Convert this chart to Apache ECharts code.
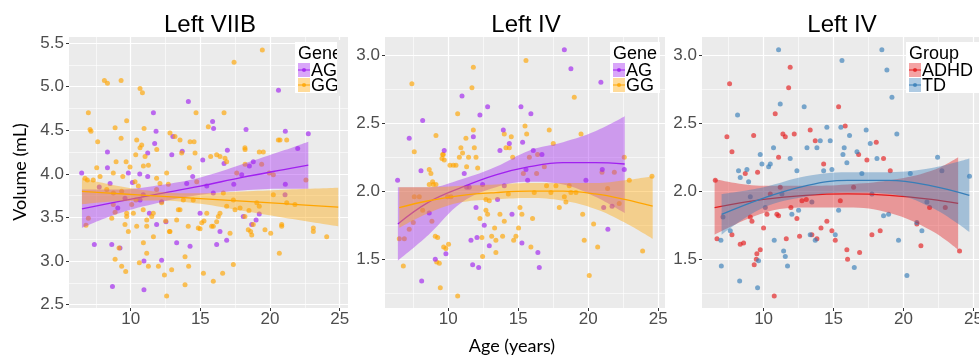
<!DOCTYPE html>
<html>
<head>
<meta charset="utf-8">
<script src="https://cdn.jsdelivr.net/npm/echarts@6/dist/echarts.min.js"></script>
<style>
  html, body { margin: 0; padding: 0; background: #fff; }
  #chart { width: 979px; height: 357px; }
</style>
</head>
<body>
<div id="chart"></div>
<script>
// ---- panel 1: Left VIIB (gene) ----
const viibAG = [[6.48,4.01],[7.39,3.19],[7.74,3.85],[8.33,4.25],[8.33,4.07],[8.52,3.89],[8.64,3.19],[8.69,2.71],[9.07,3.61],[9.23,3.15],[9.59,3.72],[9.83,4.01],[10.12,3.90],[10.65,4.0],[10.67,3.70],[10.9,3.76],[10.95,3.0],[10.95,2.67],[11.22,4.24],[11.22,3.97],[11.34,3.55],[11.63,4.70],[11.72,4.35],[11.82,4.49],[11.86,3.42],[12.22,3.68],[12.22,3.01],[12.53,3.45],[12.95,4.22],[13.03,4.43],[13.3,3.21],[13.7,4.26],[14.14,4.83],[14.02,3.89],[14.26,3.17],[14.45,3.97],[14.98,3.55],[15.17,4.16],[15.46,3.86],[15.88,4.60],[15.95,4.52],[15.93,3.78],[16.17,3.19],[16.41,3.34],[16.7,4.12],[16.89,3.24],[16.94,4.27],[17.4,3.88],[17.97,3.99],[18.08,3.51],[18.28,4.51],[18.52,4.09],[18.69,3.42],[18.8,4.14],[19.0,3.47],[19.23,3.54],[20.61,4.96],[21.08,3.76],[21.1,3.88],[21.1,4.49],[21.99,4.29],[22.75,4.46]];
const viibGG = [[6.79,3.41],[6.96,4.70],[7.08,4.51],[7.15,4.49],[7.63,4.37],[7.56,4.07],[6.96,3.49],[6.89,3.93],[8.11,5.07],[8.33,5.04],[9.31,5.07],[8.88,4.53],[8.95,4.14],[9.31,4.41],[9.67,4.14],[9.71,4.61],[8.76,3.78],[8.64,3.49],[8.88,3.56],[8.88,3.02],[9.16,3.15],[9.35,2.94],[9.64,2.88],[9.71,3.55],[10.36,4.22],[10.67,4.98],[10.84,4.93],[10.96,4.52],[10.67,4.30],[10.91,4.09],[10.31,3.91],[10.55,3.86],[10.38,3.70],[10.19,3.55],[10.62,2.98],[10.91,3.21],[11.15,3.09],[11.27,2.94],[11.15,3.40],[11.51,3.51],[11.63,3.28],[11.99,2.94],[11.87,4.28],[12.58,4.01],[12.7,3.88],[12.51,3.46],[12.78,3.34],[12.42,2.84],[12.58,2.60],[12.94,2.90],[12.82,4.47],[13.18,4.43],[13.66,4.24],[13.54,3.59],[13.9,3.05],[13.9,2.73],[14.16,2.94],[14.21,4.07],[14.55,4.37],[14.74,3.91],[14.69,4.70],[14.98,3.37],[15.22,2.86],[15.26,3.46],[15.57,4.54],[15.74,4.20],[15.93,3.40],[15.93,2.77],[16.29,3.51],[16.41,4.20],[16.6,2.86],[16.7,4.70],[16.89,4.14],[17.42,5.28],[19.45,5.42],[17.37,2.96],[17.49,3.59],[17.61,4.01],[18.21,4.11],[18.21,4.28],[18.49,3.58],[18.61,3.34],[18.8,3.42],[19.23,3.63],[19.4,4.11],[19.52,4.25],[19.95,4.01],[20.05,3.32],[20.24,3.76],[20.72,4.39],[20.67,3.09],[20.84,3.40],[21.2,3.67],[21.79,3.65],[22.58,3.93],[23.11,3.38],[24.07,3.28],[6.72,3.95],[7.31,3.93],[7.8,3.97],[8.28,3.82],[8.75,3.65],[9.35,3.80],[9.71,3.51],[9.59,3.42],[9.83,3.34],[10.07,3.65],[10.43,3.40],[10.9,3.59],[11.15,3.47],[11.62,3.55],[11.86,3.82],[12.1,3.89],[12.22,3.67],[12.82,3.34],[13.3,3.47],[13.42,3.59],[13.78,3.70],[14.13,3.40],[14.49,3.70],[14.85,3.38],[15.1,3.44],[15.46,3.55],[15.81,3.40],[16.17,3.45],[16.41,3.55],[16.65,3.78],[16.89,3.63],[17.13,3.32],[17.37,3.70],[17.85,3.61],[18.2,3.51],[18.44,3.36],[18.69,3.30],[19.05,3.67],[19.64,3.36],[20.84,3.42],[23.11,3.34],[13.54,4.39],[14.26,4.37],[14.62,4.24],[16.17,4.22],[16.77,4.18],[18.2,4.30],[19.23,4.25],[20.24,3.99],[20.6,4.39],[21.2,4.39],[10.43,4.39],[10.79,4.33],[9.95,4.08],[11.03,4.20],[11.27,4.10],[11.86,3.95],[8.75,4.01],[9.43,3.97]];
const viibFitAgeAG = [6.5, 9, 12, 15, 18, 21, 22.75];
const viibFitAG    = [3.60, 3.68, 3.77, 3.86, 3.96, 4.05, 4.10];
const viibLoAG     = [3.38, 3.54, 3.67, 3.76, 3.81, 3.83, 3.83];
const viibHiAG     = [3.82, 3.82, 3.87, 3.96, 4.11, 4.27, 4.37];
const viibFitAgeGG = [6.5, 9, 12, 15, 18, 21, 24.9];
const viibFitGG    = [3.80, 3.775, 3.746, 3.717, 3.687, 3.658, 3.62];
const viibLoGG     = [3.65, 3.685, 3.696, 3.657, 3.577, 3.498, 3.40];
const viibHiGG     = [3.95, 3.865, 3.796, 3.777, 3.797, 3.818, 3.84];

// ---- panel 2: Left IV (gene) ----
const ivAG = [[6.38,2.08],[7.21,2.39],[8.17,2.52],[8.05,2.15],[8.1,1.34],[8.64,1.84],[9.07,1.50],[9.71,2.30],[9.83,1.54],[10.98,2.70],[11.14,2.13],[11.31,2.03],[11.5,2.03],[11.62,1.64],[11.74,1.46],[11.79,2.40],[11.98,1.88],[12.05,1.66],[12.17,1.44],[12.26,2.56],[12.45,2.05],[12.81,2.62],[12.57,1.75],[12.93,1.60],[13.52,1.94],[13.69,2.30],[13.93,2.45],[14.0,2.04],[14.36,2.35],[14.55,1.83],[15.19,2.62],[15.26,1.62],[15.31,2.36],[15.55,2.16],[15.67,2.08],[15.9,2.57],[16.07,2.30],[16.4,1.55],[16.5,1.44],[16.69,2.27],[18.29,3.04],[18.76,2.90],[19.83,2.08],[20.9,2.80],[21.0,2.16],[21.1,1.88],[21.4,1.72],[21.7,1.89],[22.57,2.16]];
const ivGG = [[7.4,2.79],[7.57,2.29],[6.5,1.65],[6.86,1.65],[6.79,1.45],[7.21,1.72],[7.5,1.77],[7.57,1.96],[7.93,1.96],[8.17,1.86],[8.64,2.16],[8.76,2.13],[8.64,2.05],[8.88,2.07],[8.93,2.05],[9.12,2.05],[8.83,1.78],[9.07,1.67],[9.24,1.66],[9.17,1.48],[9.36,1.47],[9.43,1.29],[9.12,2.41],[9.6,2.27],[9.64,2.27],[9.55,2.24],[9.71,2.23],[9.67,1.59],[9.83,1.58],[10.02,1.61],[9.95,1.96],[10.19,1.96],[10.12,2.19],[10.36,2.19],[10.55,2.19],[10.67,1.23],[10.67,2.57],[10.79,2.25],[10.9,2.32],[11.02,2.28],[11.26,2.39],[11.31,2.18],[11.45,2.25],[11.69,2.76],[11.79,2.91],[11.79,2.45],[11.86,2.32],[11.98,2.25],[12.1,2.17],[12.26,1.80],[12.4,1.66],[12.45,1.52],[12.69,1.94],[12.69,1.86],[12.81,1.83],[12.93,1.93],[13.1,1.67],[13.31,1.73],[13.4,1.64],[13.4,1.55],[13.69,1.83],[13.88,1.67],[14.0,1.78],[14.0,2.42],[14.12,2.32],[14.29,1.98],[14.36,2.32],[14.5,2.40],[14.6,2.25],[14.67,1.64],[14.83,1.67],[15.02,1.73],[15.12,1.88],[15.26,1.83],[15.36,2.13],[15.48,2.48],[15.55,2.96],[15.6,2.42],[15.79,2.25],[15.9,1.59],[16.02,1.80],[16.14,1.99],[16.31,2.13],[16.38,2.27],[16.86,2.18],[17.02,2.04],[17.21,2.45],[17.33,1.99],[17.5,2.35],[17.69,2.04],[17.93,1.88],[18.29,1.96],[18.4,1.92],[18.64,2.04],[18.76,1.99],[19.0,2.69],[19.12,1.99],[19.48,2.42],[19.6,1.83],[19.71,1.64],[20.07,1.38],[20.38,1.76],[20.67,1.59],[20.98,2.14],[21.38,2.02],[21.86,2.14],[22.21,1.91],[22.57,2.25],[22.93,2.08],[23.88,1.56],[24.55,2.11]];
const ivFitAgeAG = [6.4, 8.6, 11, 13.4, 15.8, 18.2, 20.5, 22.6];
const ivFitAG    = [1.76, 1.92, 2.03, 2.12, 2.18, 2.21, 2.21, 2.20];
const ivLoAG     = [1.49, 1.68, 1.92, 2.03, 2.07, 2.05, 1.96, 1.84];
const ivHiAG     = [2.03, 2.03, 2.09, 2.18, 2.30, 2.36, 2.44, 2.55];
const ivFitAgeGG = [6.5, 8.6, 11, 13.4, 15.8, 18.2, 20.5, 22.6, 24.6];
const ivFitGG    = [1.88, 1.93, 1.97, 1.99, 2.00, 2.00, 1.98, 1.94, 1.89];
const ivLoGG     = [1.73, 1.84, 1.92, 1.94, 1.95, 1.93, 1.87, 1.77, 1.65];
const ivHiGG     = [2.03, 2.03, 2.04, 2.05, 2.06, 2.06, 2.06, 2.08, 2.11];

// ---- panel 3: Left IV (group) ----
const ivADHD = [[6.55,2.08],[6.67,1.65],[7.38,2.40],[7.57,2.79],[7.74,2.29],[7.74,1.68],[8.33,1.61],[8.57,1.62],[8.69,2.13],[9.05,1.81],[9.17,1.78],[9.29,2.41],[9.33,1.46],[9.48,1.50],[9.52,1.54],[9.57,2.14],[9.76,1.57],[10.0,1.73],[10.24,1.83],[10.48,1.98],[10.76,1.23],[10.83,2.57],[10.95,1.83],[11.07,1.82],[11.07,2.25],[11.19,2.03],[11.38,2.42],[11.55,2.40],[11.62,1.65],[11.79,2.76],[11.9,2.91],[11.95,1.88],[12.19,2.42],[12.38,1.80],[12.57,1.67],[12.74,1.93],[13.05,1.94],[13.33,2.45],[13.45,1.68],[13.69,2.37],[13.81,1.65],[14.1,1.73],[14.29,2.20],[14.52,1.78],[14.88,1.71],[15.12,1.64],[15.36,2.62],[15.48,1.93],[15.83,2.48],[15.95,1.57],[16.0,1.50],[16.43,2.03],[16.79,2.27],[16.86,1.55],[17.38,2.23],[17.74,1.68],[18.05,2.36],[18.33,1.71],[18.57,2.24],[19.05,2.15],[20.95,1.76],[21.24,1.60],[21.86,1.88],[22.98,1.88],[24.0,1.56]];
const ivTD = [[6.98,1.45],[6.95,1.64],[7.1,1.81],[7.62,1.71],[8.14,2.56],[8.21,2.15],[8.33,2.10],[8.29,1.34],[8.81,2.16],[8.93,2.07],[9.05,1.96],[9.57,1.29],[9.64,1.49],[9.76,2.27],[9.88,2.20],[10.12,1.88],[10.36,2.18],[10.48,2.20],[10.71,2.32],[10.76,1.64],[11.07,3.04],[11.19,2.64],[11.31,1.98],[11.43,1.56],[11.55,1.52],[11.71,1.45],[11.9,2.24],[12.02,1.83],[12.38,2.15],[12.5,1.86],[12.9,2.62],[13.1,2.32],[13.33,1.68],[13.45,1.92],[13.69,1.64],[13.81,2.32],[14.05,2.37],[14.29,2.15],[14.52,2.47],[14.76,2.37],[14.88,2.16],[15.12,1.68],[15.36,1.86],[15.52,2.47],[15.6,2.96],[15.67,2.27],[15.76,2.32],[15.95,2.21],[16.14,2.41],[16.48,1.44],[16.67,2.29],[17.02,2.13],[17.33,2.45],[17.62,2.35],[17.74,1.98],[18.1,2.24],[18.45,3.04],[18.57,1.82],[18.81,2.89],[18.93,1.83],[19.17,2.69],[19.52,2.42],[19.64,1.64],[20.24,1.38],[20.48,2.13],[20.95,1.77],[21.31,1.71],[21.67,1.92],[22.43,2.25],[22.74,2.15],[24.71,2.11]];
const ivFitAgeADHD = [6.5, 10, 13, 16, 19, 22, 23.9];
const ivFitADHD    = [1.88, 1.94, 1.97, 1.98, 1.97, 1.94, 1.91];
const ivLoADHD     = [1.68, 1.84, 1.88, 1.88, 1.84, 1.71, 1.57];
const ivHiADHD     = [2.09, 2.04, 2.04, 2.05, 2.08, 2.15, 2.25];
const ivFitAgeTD   = [7.0, 10, 13, 16, 19, 22, 24.7];
const ivFitTD      = [1.83, 1.95, 2.04, 2.08, 2.08, 2.04, 1.97];
const ivLoTD       = [1.68, 1.88, 1.96, 1.99, 1.98, 1.88, 1.70];
const ivHiTD       = [1.98, 2.03, 2.11, 2.14, 2.14, 2.17, 2.24];

// ---- ticks ----
const ageTicks = [10, 15, 20, 25];
const ageMinor = [7.5, 12.5, 17.5, 22.5];
const viibTicks = [2.5, 3.0, 3.5, 4.0, 4.5, 5.0, 5.5];
const viibMinor = [2.75, 3.25, 3.75, 4.25, 4.75, 5.25];
const ivTicks = [1.5, 2.0, 2.5, 3.0];
const ivMinor = [1.25, 1.75, 2.25, 2.75];

const C = { AG: '#A020F0', GG: '#FFA500', ADHD: '#E41A1C', TD: '#377EB8' };
const FONT = '"Liberation Sans", Arial, sans-serif';

const chart = echarts.init(document.getElementById('chart'));

const panels = [
  { left: 69, width: 279, xMin: 5.57, xMax: 25.6, yMin: 2.462, yMax: 5.57, yTicks: viibTicks, yMinor: viibMinor },
  { left: 385, width: 280, xMin: 5.48, xMax: 25.48, yMin: 1.142, yMax: 3.133, yTicks: ivTicks, yMinor: ivMinor },
  { left: 702, width: 277, xMin: 5.6, xMax: 25.39, yMin: 1.142, yMax: 3.133, yTicks: ivTicks, yMinor: ivMinor }
];

const grids = panels.map(p => ({
  left: p.left, top: 37, width: p.width, height: 271,
  show: true, backgroundColor: '#EBEBEB', borderWidth: 0, containLabel: false, outerBoundsMode: 'none'
}));

const tickLabel = { color: '#4D4D4D', fontSize: 17, fontFamily: FONT };

const xAxes = panels.map((p, i) => ({
  type: 'value', gridIndex: i, min: p.xMin, max: p.xMax,
  axisLine: { show: false },
  axisTick: { show: true, length: 3, customValues: ageTicks, lineStyle: { color: '#333', width: 1 } },
  axisLabel: Object.assign({ margin: 3, customValues: ageTicks, formatter: v => String(v) }, tickLabel),
  splitLine: { show: false }
}));

const yAxes = panels.map((p, i) => ({
  type: 'value', gridIndex: i, min: p.yMin, max: p.yMax,
  axisLine: { show: false },
  axisTick: { show: true, length: 3, customValues: p.yTicks, lineStyle: { color: '#333', width: 1 } },
  axisLabel: Object.assign({ margin: 5, customValues: p.yTicks, formatter: v => v.toFixed(1) }, tickLabel),
  splitLine: { show: false }
}));

const series = [];

// white grid lines (major + minor) drawn through the axis scales, kept under the marks
panels.forEach((p, i) => {
  const major = { color: '#fff', width: 1.2, type: 'solid' };
  const minor = { color: '#fff', width: 0.6, type: 'solid' };
  const lines = []
    .concat(ageMinor.map(v => ({ xAxis: v, lineStyle: minor })))
    .concat(p.yMinor.map(v => ({ yAxis: v, lineStyle: minor })))
    .concat(ageTicks.map(v => ({ xAxis: v, lineStyle: major })))
    .concat(p.yTicks.map(v => ({ yAxis: v, lineStyle: major })));
  series.push({
    type: 'line', xAxisIndex: i, yAxisIndex: i, data: [], z: 1, silent: true,
    markLine: { z: 1, silent: true, animation: false, symbol: ['none', 'none'], label: { show: false },
      lineStyle: { type: 'solid' }, emphasis: { disabled: true }, data: lines }
  });
});

function points(i, data, color) {
  series.push({
    type: 'scatter', xAxisIndex: i, yAxisIndex: i, data, symbolSize: 5, z: 2, silent: true,
    itemStyle: { color, opacity: 0.65 }
  });
}

// band = lower line + stacked (hi - lo) area; columns are [value, age] so that y is the stacked dim
function smooth(i, ages, fit, lo, hi, color, key, z) {
  const enc = { x: 1, y: 0 };
  series.push({
    type: 'line', xAxisIndex: i, yAxisIndex: i, stack: key, z, silent: true, smooth: 0.4,
    encode: enc, dimensions: ['v', 'age'],
    symbol: 'none', lineStyle: { opacity: 0 }, data: ages.map((a, k) => [lo[k], a])
  });
  series.push({
    type: 'line', xAxisIndex: i, yAxisIndex: i, stack: key, z, silent: true, smooth: 0.4,
    encode: enc, dimensions: ['v', 'age'],
    symbol: 'none', lineStyle: { opacity: 0 }, areaStyle: { color, opacity: 0.4 },
    data: ages.map((a, k) => [+(hi[k] - lo[k]).toFixed(3), a])
  });
  series.push({
    type: 'line', xAxisIndex: i, yAxisIndex: i, z: z + 0.5, silent: true, smooth: 0.4,
    symbol: 'none', lineStyle: { color, width: 1.3 }, data: ages.map((a, k) => [a, fit[k]])
  });
}

points(0, viibAG, C.AG);
points(0, viibGG, C.GG);
smooth(0, viibFitAgeAG, viibFitAG, viibLoAG, viibHiAG, C.AG, 'p1ag', 3);
smooth(0, viibFitAgeGG, viibFitGG, viibLoGG, viibHiGG, C.GG, 'p1gg', 5);

points(1, ivGG, C.GG);
points(1, ivAG, C.AG);
smooth(1, ivFitAgeAG, ivFitAG, ivLoAG, ivHiAG, C.AG, 'p2ag', 3);
smooth(1, ivFitAgeGG, ivFitGG, ivLoGG, ivHiGG, C.GG, 'p2gg', 5);

points(2, ivADHD, C.ADHD);
points(2, ivTD, C.TD);
smooth(2, ivFitAgeADHD, ivFitADHD, ivLoADHD, ivHiADHD, C.ADHD, 'p3adhd', 3);
smooth(2, ivFitAgeTD, ivFitTD, ivLoTD, ivHiTD, C.TD, 'p3td', 5);

// legend boxes (ggplot style keys)
function legend(x, y, w, title, items) {
  const els = [
    { type: 'rect', shape: { x, y, width: w, height: 51 }, style: { fill: '#fff' }, z: 100 },
    { type: 'text', x: x + 3, y: y + 12, z: 101,
      style: { text: title, fill: '#000', font: '18px ' + FONT, textVerticalAlign: 'middle' } }
  ];
  items.forEach((it, k) => {
    const ky = y + 21 + k * 15;
    els.push({ type: 'rect', z: 101, shape: { x: x + 3, y: ky, width: 12, height: 14 },
      style: { fill: it.color, opacity: 0.4 } });
    els.push({ type: 'line', z: 102, shape: { x1: x + 3, y1: ky + 7, x2: x + 15, y2: ky + 7 },
      style: { stroke: it.color, lineWidth: 1 } });
    els.push({ type: 'circle', z: 102, shape: { cx: x + 9, cy: ky + 7, r: 2 },
      style: { fill: it.color, opacity: 0.8 } });
    els.push({ type: 'text', x: x + 16, y: ky + 8, z: 101,
      style: { text: it.name, fill: '#000', font: '18px ' + FONT, textVerticalAlign: 'middle' } });
  });
  return els;
}

const graphic = []
  .concat(legend(295, 42, 60, 'Gene', [{ name: 'AG', color: C.AG }, { name: 'GG', color: C.GG }]))
  .concat([{ type: 'rect', z: 110, shape: { x: 337, y: 40, width: 11, height: 56 }, style: { fill: '#EBEBEB' } }])
  .concat(legend(610, 42, 50, 'Gene', [{ name: 'AG', color: C.AG }, { name: 'GG', color: C.GG }]))
  .concat(legend(906, 42, 73, 'Group', [{ name: 'ADHD', color: C.ADHD }, { name: 'TD', color: C.TD }]))
  .concat([
    { type: 'text', x: 210, y: 25, style: { text: 'Left VIIB', fill: '#000', font: '24px ' + FONT, textAlign: 'center', textVerticalAlign: 'middle' } },
    { type: 'text', x: 526, y: 25, style: { text: 'Left IV', fill: '#000', font: '24px ' + FONT, textAlign: 'center', textVerticalAlign: 'middle' } },
    { type: 'text', x: 842, y: 25, style: { text: 'Left IV', fill: '#000', font: '24px ' + FONT, textAlign: 'center', textVerticalAlign: 'middle' } },
    { type: 'text', x: 20, y: 172, rotation: Math.PI / 2, style: { text: 'Volume (mL)', fill: '#000', font: '18px Lato, "Open Sans", sans-serif', textAlign: 'center', textVerticalAlign: 'middle' } },
    { type: 'text', x: 512, y: 346, style: { text: 'Age (years)', fill: '#000', font: '18px Lato, "Open Sans", sans-serif', textAlign: 'center', textVerticalAlign: 'middle' } }
  ]);

chart.setOption({
  backgroundColor: '#fff',
  animation: false,
  textStyle: { fontFamily: FONT },
  grid: grids,
  xAxis: xAxes,
  yAxis: yAxes,
  series,
  graphic
});
</script>
</body>
</html>
